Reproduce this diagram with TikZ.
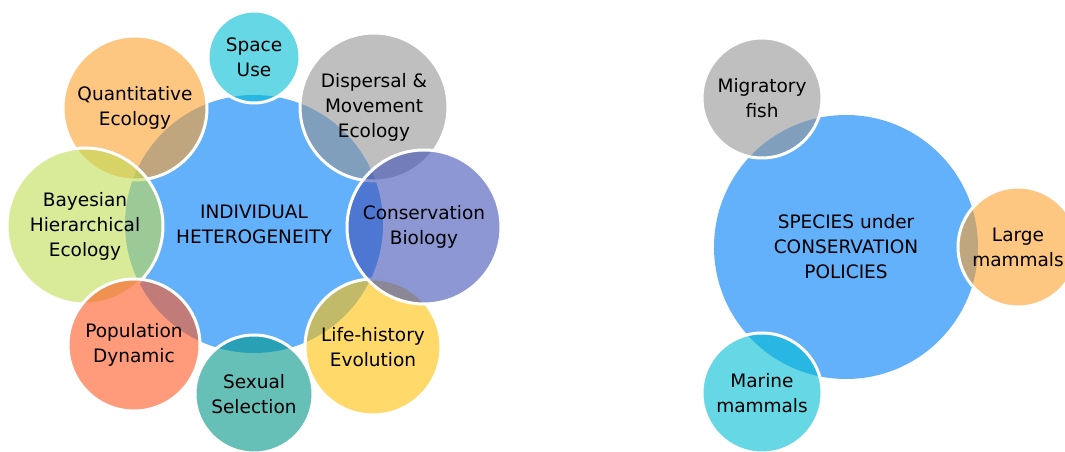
\documentclass[tikz,border=0pt]{standalone}
\usepackage{fontspec}
\setmainfont{DejaVu Sans}
\definecolor{hubblue}{RGB}{100,177,251}
\definecolor{cSpace}{RGB}{0,188,212}
\definecolor{cGray}{RGB}{148,148,148}
\definecolor{cCons}{RGB}{63,81,181}
\definecolor{cLife}{RGB}{255,193,7}
\definecolor{cSex}{RGB}{0,150,136}
\definecolor{cPop}{RGB}{255,87,34}
\definecolor{cBay}{RGB}{192,220,85}
\definecolor{cQuant}{RGB}{252,160,45}
\begin{document}
\begin{tikzpicture}[x=1pt,y=1pt,
  lbl/.style={align=center, font=\fontsize{18.5}{25}\selectfont, text=black},
  hub/.style={circle, fill=hubblue, inner sep=0pt, minimum size=#1, lbl},
  sat/.style={circle, fill=#1, fill opacity=0.6, text opacity=1, draw=white, line width=3pt, inner sep=0pt, lbl}
]
\clip (0,0) rectangle (1065,452);
% left diagram
\node[hub=258pt] (ih) at (254,228) {INDIVIDUAL\\HETEROGENEITY};
\node[sat=cSpace, minimum size=92pt] (space) at (254,395) {Space\\Use};
\node[sat=cGray, minimum size=148pt] (disp) at (374,345) {Dispersal \&\\Movement\\Ecology};
\node[sat=cQuant, minimum size=144pt] (quant) at (135,344) {Quantitative\\Ecology};
\node[sat=cBay, minimum size=156pt] (bay) at (85,226) {Bayesian\\Hierarchical\\Ecology};
\node[sat=cPop, minimum size=132pt] (pop) at (134,107) {Population\\Dynamic};
\node[sat=cSex, minimum size=118pt] (sex) at (254,58) {Sexual\\Selection};
\node[sat=cLife, minimum size=136pt] (life) at (373,105) {Life-history\\Evolution};
\node[sat=cCons, minimum size=154pt] (cons) at (424,225) {Conservation\\Biology};
% right diagram
\node[hub=264pt] (sp) at (846,205) {SPECIES under\\CONSERVATION\\POLICIES};
\node[sat=cGray, minimum size=120pt] (migr) at (762,354) {Migratory\\fish};
\node[sat=cQuant, minimum size=120pt] (large) at (1018,205) {Large\\mammals};
\node[sat=cSpace, minimum size=120pt] (marine) at (762,59) {Marine\\mammals};
\end{tikzpicture}
\end{document}
